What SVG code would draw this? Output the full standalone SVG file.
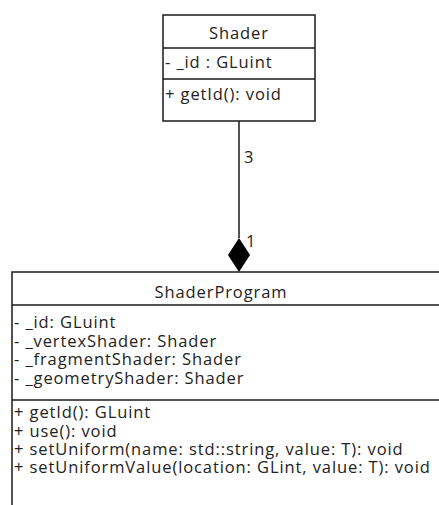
<svg xmlns="http://www.w3.org/2000/svg" width="439" height="505" viewBox="0 0 439 505">
  <style>
    .box { fill: #ffffff; stroke: #1a1a1a; stroke-width: 1.5; }
    .sep { stroke: #1a1a1a; stroke-width: 1.5; }
    .t { font-family: "Open Sans", "Noto Sans", sans-serif; font-size: 16.5px; letter-spacing: 0.9px; fill: #222222; }
    .c { text-anchor: middle; }
    .edge { stroke: #1a1a1a; stroke-width: 1.5; fill: none; }
  </style>
  <rect width="439" height="505" fill="#ffffff"/>

  <!-- composition: ShaderProgram owns Shader -->
  <g id="connectors">
    <line class="edge" x1="239" y1="121" x2="239" y2="238"/>
    <polygon points="239,238 250,255 239,272 228,255" fill="#000000"/>
    <text class="t" x="244" y="163">3</text>
    <text class="t" x="246" y="247">1</text>
  </g>

  <g id="Shader">
    <rect class="box" x="163" y="15" width="152" height="106"/>
    <line class="sep" x1="163" y1="48" x2="315" y2="48"/>
    <line class="sep" x1="163" y1="79" x2="315" y2="79"/>
    <text class="t c" x="239" y="39">Shader</text>
    <text class="t" x="165" y="68">- _id : GLuint</text>
    <text class="t" x="165" y="100">+ getId(): void</text>
  </g>

  <g id="ShaderProgram">
    <rect class="box" x="12" y="272" width="440" height="250"/>
    <line class="sep" x1="12" y1="305" x2="452" y2="305"/>
    <line class="sep" x1="12" y1="400" x2="452" y2="400"/>
    <text class="t c" x="221" y="298">ShaderProgram</text>
    <text class="t" x="14" y="328">- _id: GLuint</text>
    <text class="t" x="14" y="347">- _vertexShader: Shader</text>
    <text class="t" x="14" y="365">- _fragmentShader: Shader</text>
    <text class="t" x="14" y="384">- _geometryShader: Shader</text>
    <text class="t" x="14" y="418">+ getId(): GLuint</text>
    <text class="t" x="14" y="437">+ use(): void</text>
    <text class="t" x="14" y="455">+ setUniform(name: std::string, value: T): void</text>
    <text class="t" x="14" y="473">+ setUniformValue(location: GLint, value: T): void</text>
  </g>
</svg>
